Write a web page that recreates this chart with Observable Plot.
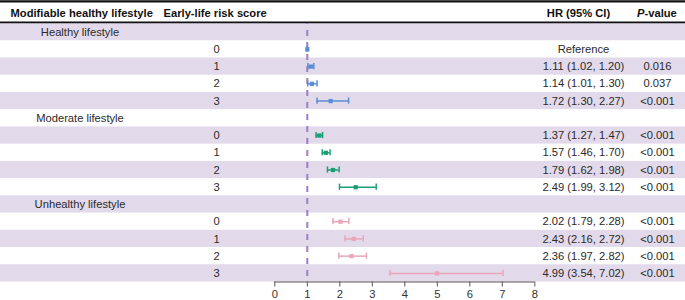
<!DOCTYPE html>
<html>
<head>
<meta charset="utf-8">
<script src="https://cdn.jsdelivr.net/npm/d3@7"></script>
<script src="https://cdn.jsdelivr.net/npm/@observablehq/plot@0.6"></script>
<style>
  html, body { margin: 0; padding: 0; background: #fff; }
  svg { display: block; }
</style>
</head>
<body>
<div id="chart"></div>
<script>
// ---- data ----
const groups = ["Healthy lifestyle", "Moderate lifestyle", "Unhealthy lifestyle"];
const scores = [0, 1, 2, 3];
const hr    = [1.00, 1.11, 1.14, 1.72, 1.37, 1.57, 1.79, 2.49, 2.02, 2.43, 2.36, 4.99];
const lower = [1.00, 1.02, 1.01, 1.30, 1.27, 1.46, 1.62, 1.99, 1.79, 2.16, 1.97, 3.54];
const upper = [1.00, 1.20, 1.30, 2.27, 1.47, 1.70, 1.98, 3.12, 2.28, 2.72, 2.82, 7.02];
const hrLabels = [
  "Reference", "1.11 (1.02, 1.20)", "1.14 (1.01, 1.30)", "1.72 (1.30, 2.27)",
  "1.37 (1.27, 1.47)", "1.57 (1.46, 1.70)", "1.79 (1.62, 1.98)", "2.49 (1.99, 3.12)",
  "2.02 (1.79, 2.28)", "2.43 (2.16, 2.72)", "2.36 (1.97, 2.82)", "4.99 (3.54, 7.02)"
];
const pLabels = [
  "", "0.016", "0.037", "<0.001",
  "<0.001", "<0.001", "<0.001", "<0.001",
  "<0.001", "<0.001", "<0.001", "<0.001"
];
const groupColors = ["#5b8dd6", "#1b9e77", "#eba5b8"];
const xTicks = [0, 1, 2, 3, 4, 5, 6, 7, 8];
const refValue = 1;
const headers = {
  lifestyle: "Modifiable healthy lifestyle",
  score: "Early-life risk score",
  hr: "HR (95% CI)",
  pItalic: "P",
  pRest: "-value"
};

// ---- table rows built from the arrays ----
const rows = [];
groups.forEach((g, gi) => {
  rows.push({row: rows.length, kind: "group", label: g, group: gi});
  scores.forEach((s, si) => {
    const k = gi * scores.length + si;
    rows.push({
      row: rows.length, kind: "score", score: s, group: gi,
      hr: hr[k], lo: lower[k], hi: upper[k],
      hrLabel: hrLabels[k], p: pLabels[k], color: groupColors[gi]
    });
  });
});
const est = rows.filter(d => d.kind === "score");
const groupRows = rows.filter(d => d.kind === "group");
const striped = rows.filter(d => d.row % 2 === 0);
const nRows = rows.length;

const font = "'Liberation Sans', Arial, Helvetica, sans-serif";
const FS = 11.2;
const mid = d => d.row + 0.5;
const headerY = -0.6;
const capHalf = 0.18;

const txt = (data, opts) => Plot.text(data, {
  y: mid, frameAnchor: "left", fontSize: FS, fill: "#2a2a2a", ...opts
});
const hdr = (text, opts) => Plot.text([text], {
  text: d => d, y: () => headerY, frameAnchor: "left",
  fontSize: FS, fontWeight: "bold", fill: "#111", ...opts
});

const chart = Plot.plot({
  width: 685,
  height: 300,
  marginTop: 0,
  marginRight: 0,
  marginBottom: 18.5,
  marginLeft: 0,
  style: {fontFamily: font, fontSize: FS + "px", background: "#fff", color: "#222"},
  x: {domain: [0, 8], range: [274.3, 534.3]},
  y: {domain: [0, nRows], range: [23, 281.5], axis: null},
  color: {type: "identity"},
  marks: [
    // striped row backgrounds
    Plot.rect(striped, {y1: "row", y2: d => d.row + 1, fill: "#e2daeb"}),
    // table rules
    Plot.ruleY([-1.28], {stroke: "#111", strokeWidth: 2.2}),
    Plot.ruleY([-0.07], {stroke: "#111", strokeWidth: 1.8}),
    // header texts
    hdr(headers.lifestyle, {dx: 10, textAnchor: "start"}),
    hdr(headers.score, {dx: 163, textAnchor: "start"}),
    hdr(headers.hr, {dx: 578, textAnchor: "middle"}),
    hdr(headers.pItalic, {dx: 644, textAnchor: "end", fontStyle: "italic"}),
    hdr(headers.pRest, {dx: 644, textAnchor: "start"}),
    // table body texts
    txt(groupRows, {text: "label", dx: 79.5, textAnchor: "middle"}),
    txt(est, {text: d => String(d.score), dx: 216, textAnchor: "middle"}),
    txt(est, {text: "hrLabel", dx: 583, textAnchor: "middle"}),
    txt(est, {text: "p", dx: 657, textAnchor: "middle"}),
    // reference line at HR = 1
    Plot.ruleX([refValue], {
      y1: () => 0, y2: () => nRows,
      stroke: "#9a7fc3", strokeWidth: 2, strokeDasharray: "6,6", strokeDashoffset: 5
    }),
    // confidence intervals
    Plot.ruleY(est, {y: mid, x1: "lo", x2: "hi", stroke: "color", strokeWidth: 1.5}),
    Plot.ruleX(est, {x: "lo", y1: d => mid(d) - capHalf, y2: d => mid(d) + capHalf, stroke: "color", strokeWidth: 1.5}),
    Plot.ruleX(est, {x: "hi", y1: d => mid(d) - capHalf, y2: d => mid(d) + capHalf, stroke: "color", strokeWidth: 1.5}),
    Plot.dot(est, {x: "hr", y: mid, symbol: "square", r: 2.4, fill: "color"}),
    // x axis
    Plot.ruleY([nRows], {x1: () => xTicks[0], x2: () => xTicks[xTicks.length - 1], stroke: "#555", strokeWidth: 1}),
    Plot.axisX(xTicks, {tickSize: 5, tickPadding: 3, color: "#333", stroke: "#555", label: null, fontSize: FS})
  ]
});
document.getElementById("chart").appendChild(chart);
</script>
</body>
</html>
